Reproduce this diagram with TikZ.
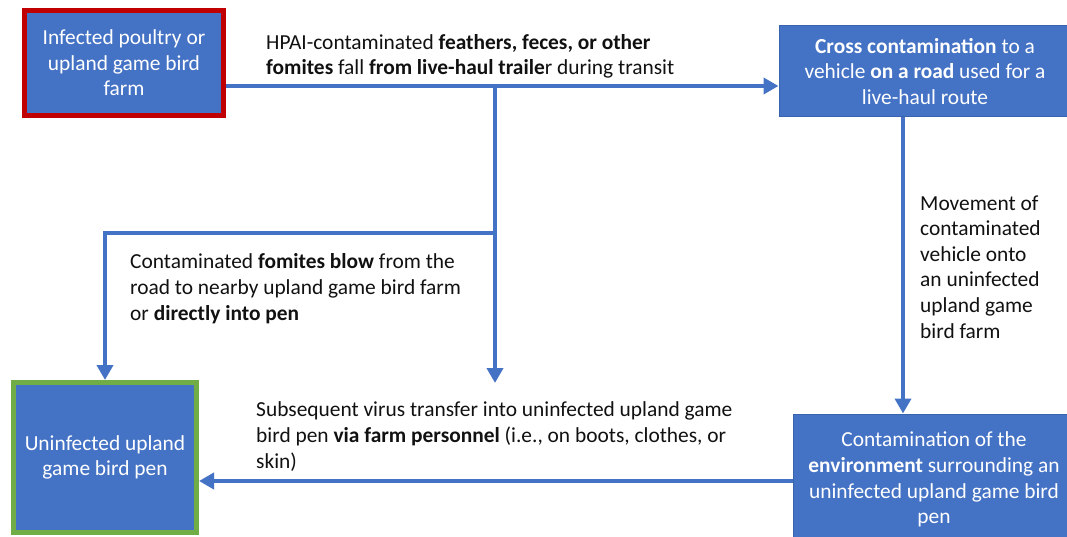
\documentclass[tikz,border=0pt]{standalone}
\usepackage{fontspec}
\setmainfont{Carlito}
\usetikzlibrary{arrows.meta}
\definecolor{boxblue}{HTML}{4472C4}
\definecolor{boxedge}{HTML}{3A63AD}
\definecolor{farmred}{HTML}{C00000}
\definecolor{pengreen}{HTML}{70AD47}
\definecolor{labeltext}{HTML}{111111}
\newcommand\lblfont{\fontsize{21.4}{25.6}\selectfont}
\begin{document}
\begin{tikzpicture}[x=1pt,y=-1pt,
  box/.style={fill=boxblue, draw=boxedge, line width=1pt, inner sep=0pt,
    align=center, text=white, font=\lblfont},
  flow/.style={draw=boxblue, line width=4pt, -{Triangle[length=15pt,width=16pt]}},
  note/.style={align=left, text=labeltext, font=\lblfont, inner sep=0pt, anchor=base west}]
\useasboundingbox (0,0) rectangle (1067,537);
\fill[white] (0,0) rectangle (1067,537);

% stages
\node[box, draw=farmred, line width=5pt, minimum width=199pt, minimum height=105pt]
  (src) at (124,63) {Infected poultry or\\upland game bird\\farm};
\node[box, minimum width=292pt, minimum height=91pt]
  (road) at (925,71.5) {\textbf{Cross contamination} to a\\vehicle \textbf{on a road} used for a\\live-haul route};
\node[box, draw=pengreen, line width=5pt, minimum width=183pt, minimum height=150pt]
  (pen) at (105,457.5) {Uninfected upland\\game bird pen};
\node[box, minimum width=282pt, minimum height=131pt]
  (env) at (934,479.5) {Contamination of the\\\textbf{environment} surrounding an\\uninfected upland game bird\\pen};

% junctions and free ends
\coordinate (j) at (495,86);
\coordinate (k) at (495,233);
\coordinate (drop) at (495,383);
\coordinate (v) at (903,0);
\coordinate (h) at (0,481);

% connectors
\draw[flow] (src.east |- j) -- (road.west |- j);
\draw[flow] (j) -- (drop);
\draw[flow] (k) -| (pen.north);
\draw[flow] (road.south -| v) -- (env.north -| v);
\draw[flow] (env.west |- h) -- (pen.east |- h);

% labels (anchored at the baseline of the last line)
\node[note] (l1) at (266,75) {HPAI-contaminated \textbf{feathers, feces, or other}\\\textbf{fomites} fall \textbf{from live-haul traile}r during transit};
\node[note] (l2) at (920,338) {Movement of\\contaminated\\vehicle onto\\an uninfected\\upland game\\bird farm};
\node[note] (l3) at (130,320) {Contaminated \textbf{fomites blow} from the\\road to nearby upland game bird farm\\or \textbf{directly into pen}};
\node[note] (l4) at (256,468) {Subsequent virus transfer into uninfected upland game\\bird pen \textbf{via farm personnel} (i.e., on boots, clothes, or\\skin)};
\end{tikzpicture}
\end{document}
